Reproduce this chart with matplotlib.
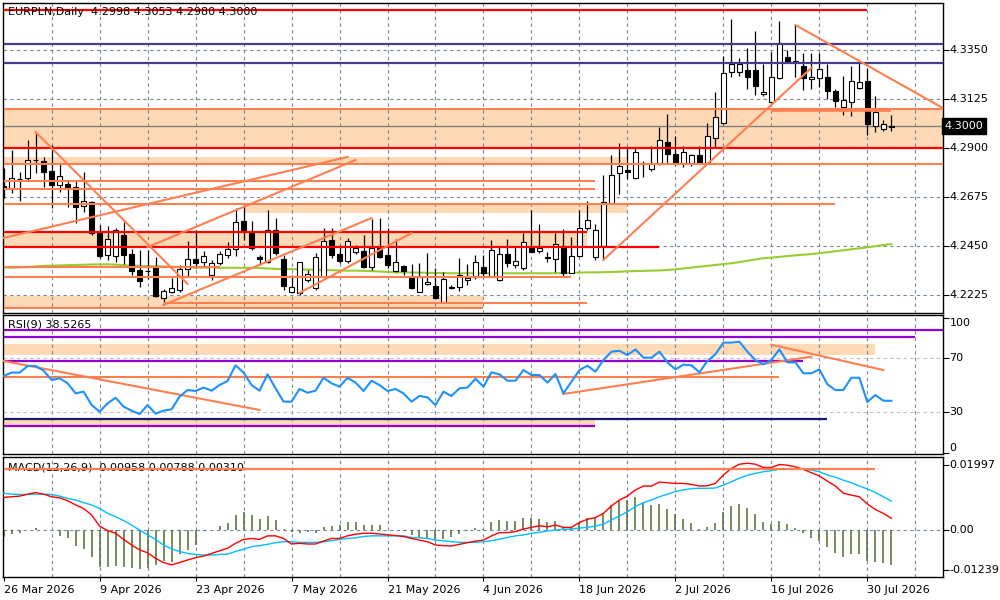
import matplotlib
matplotlib.use("Agg")
import matplotlib.pyplot as plt
import matplotlib.transforms as mtransforms

plt.rcParams['font.family'] = ['DejaVu Sans']

# ---------------- data ----------------
opens = [4.2725, 4.2715, 4.2756, 4.2761, 4.2845, 4.2841, 4.2795, 4.2731, 4.2735, 4.2723,
         4.2634, 4.2651, 4.2509, 4.2410, 4.2407, 4.2501, 4.2414, 4.2341, 4.2338, 4.2352,
         4.2211, 4.2241, 4.2249, 4.2344, 4.2391, 4.2379, 4.2318, 4.2375, 4.2410, 4.2437,
         4.2566, 4.2509, 4.2401, 4.2379, 4.2524, 4.2391, 4.2242, 4.2234, 4.2295, 4.2257,
         4.2310, 4.2478, 4.2413, 4.2382, 4.2422, 4.2428, 4.2356, 4.2440, 4.2410, 4.2338,
         4.2359, 4.2310, 4.2242, 4.2275, 4.2268, 4.2196, 4.2264, 4.2261, 4.2295, 4.2310,
         4.2353, 4.2310, 4.2295, 4.2414, 4.2362, 4.2352, 4.2443, 4.2428, 4.2402, 4.2390,
         4.2452, 4.2329, 4.2407, 4.2532, 4.2402, 4.2452, 4.2646, 4.2784, 4.2799, 4.2761,
         4.2827, 4.2802, 4.2830, 4.2929, 4.2872, 4.2833, 4.2830, 4.2868, 4.2830, 4.2944,
         4.3013, 4.3247, 4.3250, 4.3258, 4.3258, 4.3146, 4.3109, 4.3219, 4.3319, 4.3299,
         4.3277, 4.3215, 4.3219, 4.3224, 4.3163, 4.3089, 4.3112, 4.3174, 4.3207, 4.3002,
         4.2987, 4.2998]
highs = [4.2807, 4.2891, 4.2792, 4.2937, 4.2972, 4.2861, 4.2914, 4.2830, 4.2753, 4.2753,
         4.2792, 4.2657, 4.2547, 4.2542, 4.2535, 4.2562, 4.2437, 4.2433, 4.2433, 4.2402,
         4.2254, 4.2303, 4.2364, 4.2474, 4.2524, 4.2428, 4.2387, 4.2428, 4.2471, 4.2627,
         4.2636, 4.2566, 4.2410, 4.2616, 4.2581, 4.2410, 4.2318, 4.2379, 4.2341, 4.2417,
         4.2532, 4.2532, 4.2455, 4.2486, 4.2455, 4.2501, 4.2575, 4.2578, 4.2532, 4.2485,
         4.2364, 4.2368, 4.2371, 4.2417, 4.2348, 4.2333, 4.2272, 4.2394, 4.2368, 4.2410,
         4.2410, 4.2478, 4.2451, 4.2483, 4.2451, 4.2512, 4.2616, 4.2552, 4.2422, 4.2509,
         4.2527, 4.2491, 4.2616, 4.2657, 4.2552, 4.2776, 4.2868, 4.2921, 4.2898, 4.2898,
         4.2840, 4.2909, 4.2998, 4.3056, 4.2955, 4.2909, 4.2873, 4.2909, 4.3016, 4.3158,
         4.3322, 4.3490, 4.3311, 4.3357, 4.3438, 4.3285, 4.3342, 4.3484, 4.3349, 4.3464,
         4.3334, 4.3337, 4.3337, 4.3285, 4.3169, 4.3230, 4.3276, 4.3303, 4.3265, 4.3138,
         4.3028, 4.3053]
lows = [4.2669, 4.2692, 4.2657, 4.2753, 4.2784, 4.2723, 4.2627, 4.2700, 4.2631, 4.2555,
        4.2605, 4.2501, 4.2397, 4.2387, 4.2376, 4.2367, 4.2318, 4.2264, 4.2300, 4.2218,
        4.2181, 4.2234, 4.2241, 4.2310, 4.2348, 4.2356, 4.2295, 4.2364, 4.2394, 4.2407,
        4.2478, 4.2433, 4.2364, 4.2371, 4.2410, 4.2249, 4.2234, 4.2226, 4.2284, 4.2249,
        4.2303, 4.2394, 4.2371, 4.2371, 4.2413, 4.2349, 4.2341, 4.2394, 4.2349, 4.2333,
        4.2318, 4.2254, 4.2239, 4.2272, 4.2211, 4.2193, 4.2254, 4.2246, 4.2272, 4.2298,
        4.2310, 4.2307, 4.2292, 4.2356, 4.2348, 4.2341, 4.2422, 4.2417, 4.2379, 4.2333,
        4.2310, 4.2326, 4.2402, 4.2524, 4.2387, 4.2387, 4.2643, 4.2689, 4.2756, 4.2756,
        4.2769, 4.2796, 4.2822, 4.2833, 4.2822, 4.2814, 4.2819, 4.2827, 4.2827, 4.2906,
        4.3010, 4.3227, 4.3230, 4.3169, 4.3143, 4.3140, 4.3105, 4.3215, 4.3288, 4.3224,
        4.3166, 4.3169, 4.3178, 4.3123, 4.3089, 4.3051, 4.3047, 4.3169, 4.2960, 4.2975,
        4.2979, 4.2980]
closes = [4.2712, 4.2761, 4.2759, 4.2845, 4.2846, 4.2792, 4.2731, 4.2772, 4.2723, 4.2631,
          4.2657, 4.2509, 4.2407, 4.2481, 4.2523, 4.2410, 4.2338, 4.2292, 4.2335, 4.2223,
          4.2246, 4.2257, 4.2344, 4.2390, 4.2371, 4.2405, 4.2372, 4.2413, 4.2437, 4.2559,
          4.2520, 4.2440, 4.2390, 4.2524, 4.2417, 4.2269, 4.2262, 4.2376, 4.2324, 4.2402,
          4.2475, 4.2410, 4.2382, 4.2475, 4.2440, 4.2356, 4.2440, 4.2402, 4.2362, 4.2377,
          4.2338, 4.2260, 4.2307, 4.2284, 4.2214, 4.2298, 4.2257, 4.2318, 4.2303, 4.2376,
          4.2326, 4.2433, 4.2413, 4.2371, 4.2382, 4.2468, 4.2425, 4.2440, 4.2394, 4.2459,
          4.2329, 4.2405, 4.2532, 4.2570, 4.2524, 4.2651, 4.2776, 4.2817, 4.2789, 4.2880,
          4.2833, 4.2830, 4.2937, 4.2872, 4.2830, 4.2880, 4.2868, 4.2830, 4.2955, 4.3041,
          4.3245, 4.3285, 4.3285, 4.3227, 4.3186, 4.3155, 4.3224, 4.3380, 4.3296, 4.3294,
          4.3219, 4.3224, 4.3262, 4.3163, 4.3117, 4.3120, 4.3207, 4.3204, 4.3010, 4.3066,
          4.3009, 4.3000]
ma_values = [4.2352, 4.2352, 4.2353, 4.2355, 4.2357, 4.2360, 4.2361, 4.2362, 4.2363, 4.2364,
             4.2365, 4.2366, 4.2367, 4.2367, 4.2366, 4.2363, 4.2361, 4.2360, 4.2359, 4.2358,
             4.2357, 4.2356, 4.2354, 4.2353, 4.2352, 4.2352, 4.2351, 4.2351, 4.2351, 4.2351,
             4.2351, 4.2351, 4.2350, 4.2348, 4.2346, 4.2345, 4.2345, 4.2344, 4.2343, 4.2342,
             4.2341, 4.2340, 4.2339, 4.2338, 4.2338, 4.2337, 4.2336, 4.2334, 4.2332, 4.2330,
             4.2330, 4.2329, 4.2329, 4.2328, 4.2327, 4.2327, 4.2326, 4.2326, 4.2326, 4.2326,
             4.2326, 4.2326, 4.2326, 4.2326, 4.2326, 4.2326, 4.2326, 4.2326, 4.2326, 4.2326,
             4.2327, 4.2328, 4.2329, 4.2330, 4.2330, 4.2331, 4.2332, 4.2333, 4.2335, 4.2336,
             4.2337, 4.2338, 4.2339, 4.2341, 4.2344, 4.2348, 4.2352, 4.2356, 4.2360, 4.2364,
             4.2368, 4.2372, 4.2377, 4.2383, 4.2389, 4.2395, 4.2398, 4.2401, 4.2405, 4.2408,
             4.2411, 4.2414, 4.2418, 4.2422, 4.2427, 4.2431, 4.2436, 4.2440, 4.2445, 4.2450,
             4.2455, 4.2460]
rsi_values = [56.9, 59.4, 59.4, 64.3, 64.3, 60.8, 53.9, 55.2, 51.5, 44.0,
              45.3, 35.4, 30.5, 36.6, 40.8, 34.2, 31.2, 28.7, 35.4, 29.0,
              31.2, 32.2, 41.6, 46.5, 45.8, 48.3, 46.0, 50.2, 53.2, 64.8,
              59.4, 50.2, 46.0, 58.1, 47.8, 37.9, 37.9, 47.3, 44.5, 46.0,
              55.6, 51.5, 49.0, 55.6, 52.0, 45.8, 53.4, 50.2, 45.8, 47.3,
              44.0, 37.9, 42.1, 41.1, 35.4, 45.3, 42.1, 47.8, 48.3, 54.9,
              49.0, 59.6, 58.1, 53.4, 53.4, 61.3, 57.6, 57.6, 52.0, 58.4,
              44.0, 52.7, 61.3, 64.5, 60.1, 68.7, 74.9, 75.6, 72.4, 76.6,
              70.5, 70.5, 74.9, 67.0, 61.8, 65.3, 64.8, 59.6, 68.0, 73.0,
              81.6, 81.6, 82.3, 74.9, 68.7, 65.5, 68.7, 76.6, 67.0, 67.0,
              58.9, 58.9, 61.8, 50.7, 46.5, 46.5, 55.6, 55.6, 37.6, 42.8,
              38.6, 38.5]
# MACD values in units of 1e-4
MACD_UNIT = 1e-4
macd_main = [100, 102, 104, 110, 115, 110, 102, 99, 90, 77,
             66, 46, 12, -2, -10, -29, -46, -61, -70, -87,
             -100, -107, -100, -92, -85, -80, -72, -64, -56, -41,
             -29, -26, -29, -18, -18, -26, -43, -41, -43, -43,
             -34, -26, -26, -18, -13, -10, -10, -12, -15, -17,
             -20, -26, -31, -36, -46, -48, -49, -44, -39, -34,
             -31, -18, -8, -8, -5, 3, 8, 13, 10, 15,
             8, 8, 23, 33, 38, 51, 74, 92, 104, 123,
             135, 135, 147, 145, 143, 143, 140, 135, 136, 143,
             169, 189, 202, 205, 202, 192, 192, 201, 199, 194,
             186, 176, 166, 150, 135, 113, 107, 102, 80, 63,
             51, 36]
macd_signal = [113, 110, 109, 109, 110, 110, 109, 104, 97, 92,
               84, 77, 66, 51, 41, 29, 15, 0, -15, -29,
               -46, -58, -66, -72, -75, -77, -77, -75, -74, -66,
               -59, -51, -48, -44, -39, -36, -36, -38, -38, -38,
               -36, -33, -29, -26, -24, -20, -18, -18, -18, -18,
               -18, -23, -24, -26, -31, -33, -36, -38, -38, -38,
               -36, -33, -28, -23, -18, -15, -10, -7, -3, 0,
               2, 3, 6, 8, 12, 18, 31, 43, 56, 72,
               84, 92, 102, 110, 118, 123, 127, 128, 128, 129,
               138, 148, 159, 168, 174, 179, 182, 187, 187, 187,
               187, 184, 179, 169, 162, 153, 145, 135, 126, 115,
               102, 89]
macd_hist = [-23, -12, -10, 0, 5, 0, 0, -17, -26, -48,
             -58, -82, -115, -113, -110, -115, -118, -121, -118, -107,
             -95, -97, -74, -61, -46, -4, 0, 12, 23, 46,
             54, 46, 34, 43, 31, 3, -5, -8, -5, -8,
             8, 12, 15, 26, 26, 15, 15, 15, 0, 0,
             -3, -15, -20, -29, -31, -29, -20, -12, -3, 5,
             3, 26, 31, 29, 29, 36, 36, 34, 26, 28,
             8, 8, 23, 38, 38, 53, 77, 90, 92, 100,
             87, 77, 80, 63, 49, 34, 23, 3, 8, 23,
             56, 74, 80, 69, 49, 26, 18, 29, 18, 5,
             -10, -26, -33, -51, -72, -82, -75, -74, -95, -97,
             -102, -107]

date_labels = ["26 Mar 2026", "9 Apr 2026", "23 Apr 2026", "7 May 2026", "21 May 2026",
               "4 Jun 2026", "18 Jun 2026", "2 Jul 2026", "16 Jul 2026", "30 Jul 2026"]
date_label_bars = [0, 12, 24, 36, 48, 60, 72, 84, 96, 108]
grid_bars = [6, 12, 18, 24, 30, 36, 42, 48, 54, 60, 66, 72, 78, 84, 90, 96, 102, 108, 114]
price_ticks = [4.3350, 4.3125, 4.2900, 4.2675, 4.2450, 4.2225]
last_price = 4.3000
rsi_ticks = [100, 70, 30, 0]
macd_ticks = [0.01997, 0.0, -0.01239]

header_main = "EURPLN,Daily  4.2998 4.3053 4.2980 4.3000"
header_rsi = "RSI(9) 38.5265"
header_macd = "MACD(12,26,9)  0.00958 0.00788 0.00310"

# objects: (price, start bar, end bar or None = to right edge)
red_levels = [(4.3533, 0, 108), (4.2899, 0, None), (4.2516, 0, 73), (4.2448, 0, 82)]
slate_levels = [(4.3378, 0, None), (4.3291, 0, None)]
coral_levels = [(4.3080, 0, None), (4.2825, 0, None), (4.2750, 0, 74), (4.2711, 0, 74),
                (4.2642, 0, 104), (4.2356, 0, 27), (4.2308, 0, 71), (4.2191, 20, 73),
                (4.2165, 0, 60)]
coral_thick_levels = [(4.3074, 96, 111)]
peach_zones = [(4.2899, 4.3080, 0, None), (4.2825, 4.2860, 0, 78), (4.2604, 4.2642, 30, 78),
               (4.2451, 4.2509, 0, 73), (4.2165, 4.2221, 0, 60)]
trend_lines = [((4, 4.2973), (23, 4.2277)), ((0, 4.2488), (43, 4.2859)),
               ((18, 4.2446), (44, 4.2845)), ((20, 4.2181), (46, 4.2579)),
               ((37, 4.2236), (51, 4.2510)), ((75, 4.2387), (101, 4.3267)),
               ((99, 4.3464), (117.5, 4.3082))]

rsi_violet_levels = [(91, 0, None), (86, 0, 114), (68.2, 0, 100), (20, 0, 74)]
rsi_navy_levels = [(25.3, 0, 103)]
rsi_coral_levels = [(56.4, 0, 97)]
rsi_peach_zones = [(72.5, 80.4, 0, 109), (20, 25.3, 0, 74)]
rsi_trend_lines = [((0, 68.0), (32, 31.7)), ((70, 43.6), (101, 71.2)), ((96, 80.1), (110, 61.3))]

macd_coral_levels = [(0.0187, 0, 109)]

# ---------------- layout ----------------
W, H = 1000, 600
X_LEFT, X_RIGHT = -0.08, 117.46
fig = plt.figure(figsize=(10, 6), dpi=100)
fig.patch.set_facecolor('white')

def fax(top, bottom):
    return fig.add_axes([3 / W, 1 - bottom / H, 940 / W, (bottom - top) / H])

ax1 = fax(3, 313)
ax2 = fax(315, 454)
ax3 = fax(457, 577)

GRID = '#778899'
CORAL = '#FF7F50'
PEACH = '#FDD9B5'
RED = '#FF0000'
SLATE = '#483D8B'
VIOLET = '#9400D3'
NAVY = '#191970'

for ax in (ax1, ax2, ax3):
    ax.set_xlim(X_LEFT, X_RIGHT)
    for s in ax.spines.values():
        s.set_color('black')
        s.set_linewidth(1.0)
    ax.tick_params(axis='x', which='both', bottom=False, labelbottom=False)
    ax.tick_params(axis='y', which='both', left=False, labelleft=False,
                   right=True, labelright=False, direction='out', length=4, width=0.8)
    for b in grid_bars:
        ax.axvline(b, color=GRID, lw=0.8, ls=(0, (3, 3)), zorder=1)

def end(e):
    return X_RIGHT if e is None else e

def hline(ax, y, s, e, color, lw, z=3):
    ax.plot([max(s, X_LEFT), end(e)], [y, y], color=color, lw=lw, solid_capstyle='butt', zorder=z)

def zone(ax, lo, hi, s, e):
    ax.fill_between([max(s, X_LEFT), end(e)], lo, hi, color=PEACH, lw=0, zorder=0.5)

# ---------------- main panel ----------------
ax1.set_ylim(4.21439, 4.35646)
for p in price_ticks:
    ax1.axhline(p, color=GRID, lw=0.8, ls=(0, (3, 3)), zorder=1)
for lo, hi, s, e in peach_zones:
    zone(ax1, lo, hi, s, e)
ax1.axhline(last_price, color='#808080', lw=1.0, zorder=1.5)

xs = list(range(len(opens)))
ax1.plot(xs, ma_values, color='#9ACD32', lw=1.5, zorder=2)
ax1.vlines(xs, lows, highs, color='black', lw=0.9, zorder=2.5)
for i in xs:
    o, c = opens[i], closes[i]
    up = c >= o
    ax1.bar(i, max(abs(c - o), 0.00001), bottom=min(o, c), width=0.62,
            color='white' if up else 'black', edgecolor='black', lw=0.8, zorder=2.6)

for y, s, e in slate_levels:
    hline(ax1, y, s, e, SLATE, 1.6)
for y, s, e in coral_levels:
    hline(ax1, y, s, e, CORAL, 1.5)
for y, s, e in coral_thick_levels:
    hline(ax1, y, s, e, CORAL, 2.6)
for y, s, e in red_levels:
    hline(ax1, y, s, e, RED, 1.6)
for (x0, y0), (x1, y1) in trend_lines:
    ax1.plot([x0, x1], [y0, y1], color=CORAL, lw=1.5, zorder=3.5)

ax1.set_yticks(price_ticks)
trans1 = mtransforms.blended_transform_factory(ax1.transAxes, ax1.transData)
for p in price_ticks:
    ax1.text(1.007, p, f"{p:.4f}", transform=trans1, fontsize=8, va='center', ha='left')
ax1.text(1.002, last_price, f"{last_price:.4f}", transform=trans1, fontsize=8, va='center',
         ha='left', color='white',
         bbox=dict(boxstyle='square,pad=0.25', facecolor='black', edgecolor='black'))
ax1.text(0.005, 0.972, header_main, transform=ax1.transAxes, fontsize=8, va='center', ha='left',
         zorder=5)

# ---------------- RSI panel ----------------
ax2.set_ylim(-0.89, 102.07)
for v in (70, 30):
    ax2.axhline(v, color='#C0C0C0', lw=0.8, ls=(0, (3, 3)), zorder=1)
for lo, hi, s, e in rsi_peach_zones:
    zone(ax2, lo, hi, s, e)
for y, s, e in rsi_coral_levels:
    hline(ax2, y, s, e, CORAL, 1.5)
for y, s, e in rsi_navy_levels:
    hline(ax2, y, s, e, NAVY, 1.6)
for y, s, e in rsi_violet_levels:
    hline(ax2, y, s, e, VIOLET, 1.6)
for (x0, y0), (x1, y1) in rsi_trend_lines:
    ax2.plot([x0, x1], [y0, y1], color=CORAL, lw=1.5, zorder=3.5)
ax2.plot(xs, rsi_values, color='#1E90FF', lw=1.5, zorder=4)
ax2.set_yticks(rsi_ticks)
trans2 = mtransforms.blended_transform_factory(ax2.transAxes, ax2.transData)
for v in rsi_ticks:
    va = 'top' if v == 100 else ('bottom' if v == 0 else 'center')
    ax2.text(1.007, v, str(v), transform=trans2, fontsize=8, va=va, ha='left')
ax2.text(0.005, 0.93, header_rsi, transform=ax2.transAxes, fontsize=8, va='center', ha='left',
         zorder=5)

# ---------------- MACD panel ----------------
ax3.set_ylim(-0.01443, 0.02241)
ax3.axhline(0, color=GRID, lw=0.8, ls=(0, (3, 3)), zorder=1)
hist = [v * MACD_UNIT for v in macd_hist]
ax3.vlines(xs, 0, hist, color='#556B2F', lw=1.1, zorder=2)
ax3.plot(xs, [v * MACD_UNIT for v in macd_signal], color='#00BFFF', lw=1.0, zorder=3)
ax3.plot(xs, [v * MACD_UNIT for v in macd_main], color='#FF0000', lw=1.0, zorder=3)
for y, s, e in macd_coral_levels:
    hline(ax3, y, s, e, CORAL, 1.6, z=3.5)
ax3.set_yticks(macd_ticks)
trans3 = mtransforms.blended_transform_factory(ax3.transAxes, ax3.transData)
for v in macd_ticks:
    lab = "0.00" if v == 0 else f"{v:.5f}"
    ax3.text(1.007, v, lab, transform=trans3, fontsize=8, va='center', ha='left')
ax3.text(0.005, 0.915, header_macd, transform=ax3.transAxes, fontsize=8, va='center', ha='left',
         zorder=2.8)

ax3.set_xticks(date_label_bars)
ax3.set_xticklabels(date_labels, fontsize=8, ha='left')
ax3.tick_params(axis='x', bottom=True, labelbottom=True, length=3, width=0.8, pad=3,
                direction='out')

fig.savefig("out.png", dpi=100, facecolor='white')
